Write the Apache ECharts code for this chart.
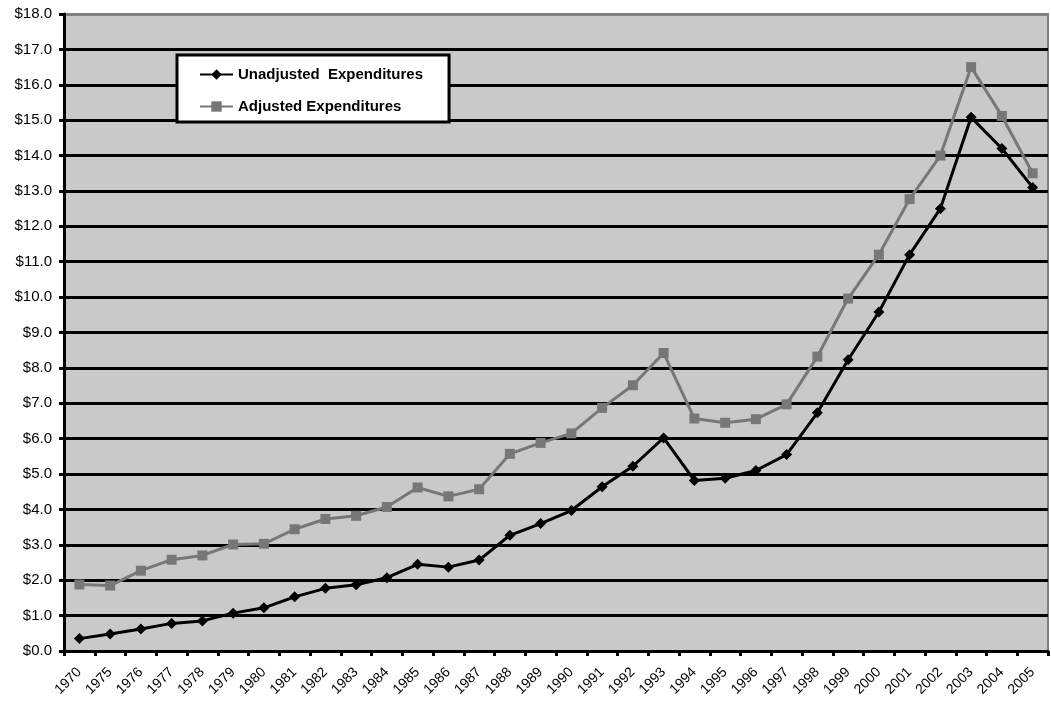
<!DOCTYPE html>
<html>
<head>
<meta charset="utf-8">
<script src="https://cdn.jsdelivr.net/npm/echarts@6/dist/echarts.min.js"></script>
<style>
  html, body { margin: 0; padding: 0; background: #ffffff; }
  #chart { width: 1051px; height: 703px; }
</style>
</head>
<body>
<div id="chart"></div>
<script>
// Years on the category axis
const years = ['1970', '1975', '1976', '1977', '1978', '1979', '1980', '1981', '1982', '1983',
  '1984', '1985', '1986', '1987', '1988', '1989', '1990', '1991', '1992', '1993',
  '1994', '1995', '1996', '1997', '1998', '1999', '2000', '2001', '2002', '2003',
  '2004', '2005'];

// Expenditures in dollars
const unadjusted = [0.35, 0.48, 0.62, 0.78, 0.85, 1.07, 1.22, 1.53, 1.77, 1.87,
  2.07, 2.45, 2.37, 2.57, 3.27, 3.60, 3.97, 4.64, 5.22, 6.02,
  4.82, 4.88, 5.10, 5.55, 6.73, 8.23, 9.58, 11.2, 12.5, 15.08,
  14.2, 13.1];

const adjusted = [1.88, 1.85, 2.27, 2.58, 2.70, 3.01, 3.03, 3.44, 3.73, 3.82,
  4.07, 4.62, 4.37, 4.57, 5.57, 5.88, 6.15, 6.87, 7.51, 8.42,
  6.57, 6.45, 6.55, 6.97, 8.32, 9.96, 11.2, 12.77, 14.0, 16.5,
  15.12, 13.5];

const seriesNames = ['Unadjusted  Expenditures', 'Adjusted Expenditures'];

// Gridline colours: black bands, the top edge is the grey frame
const gridColors = [];
for (let i = 0; i < 18; i++) gridColors.push('#000000');
gridColors.push('#808080');

const font = '"Liberation Sans", Arial, sans-serif';

const chart = echarts.init(document.getElementById('chart'), null, { renderer: 'canvas' });

chart.setOption({
  animation: false,
  backgroundColor: '#ffffff',
  textStyle: { fontFamily: font },
  grid: {
    left: 64, right: 3, top: 14, bottom: 52,
    show: true,
    backgroundColor: '#c9c9c9',
    borderColor: '#808080',
    borderWidth: 2
  },
  legend: {
    left: 177, top: 55,
    orient: 'vertical',
    backgroundColor: '#ffffff',
    borderColor: '#000000',
    borderWidth: 3,
    borderRadius: 0,
    padding: [12, 26, 8, 22],
    itemGap: 17,
    itemWidth: 33,
    itemHeight: 13,
    textStyle: { fontSize: 15, fontWeight: 'bold', color: '#000000', fontFamily: font },
    data: seriesNames
  },
  xAxis: {
    type: 'category',
    data: years,
    boundaryGap: true,
    axisLine: { lineStyle: { color: '#000000', width: 3 } },
    axisTick: { show: true, interval: 0, length: 5, lineStyle: { color: '#000000', width: 3 } },
    axisLabel: {
      interval: 0, rotate: 45, fontSize: 14, color: '#000000', margin: 19,
      fontFamily: font
    },
    splitLine: { show: false }
  },
  yAxis: {
    type: 'value',
    min: 0, max: 18, interval: 1,
    axisLine: { show: true, lineStyle: { color: '#000000', width: 3 } },
    axisTick: { show: true, length: 5, lineStyle: { color: '#000000', width: 3 } },
    axisLabel: {
      fontSize: 15, color: '#000000', margin: 12,
      fontFamily: font,
      formatter: v => '$' + v.toFixed(1)
    },
    splitLine: { show: true, lineStyle: { color: gridColors, width: 3 } }
  },
  series: [
    {
      name: seriesNames[0],
      type: 'line',
      data: unadjusted,
      symbol: 'diamond',
      symbolSize: 11,
      lineStyle: { color: '#000000', width: 3 },
      itemStyle: { color: '#000000' },
      z: 3
    },
    {
      name: seriesNames[1],
      type: 'line',
      data: adjusted,
      symbol: 'rect',
      symbolSize: 10,
      lineStyle: { color: '#777777', width: 3 },
      itemStyle: { color: '#777777' },
      z: 2
    }
  ]
});
</script>
</body>
</html>
